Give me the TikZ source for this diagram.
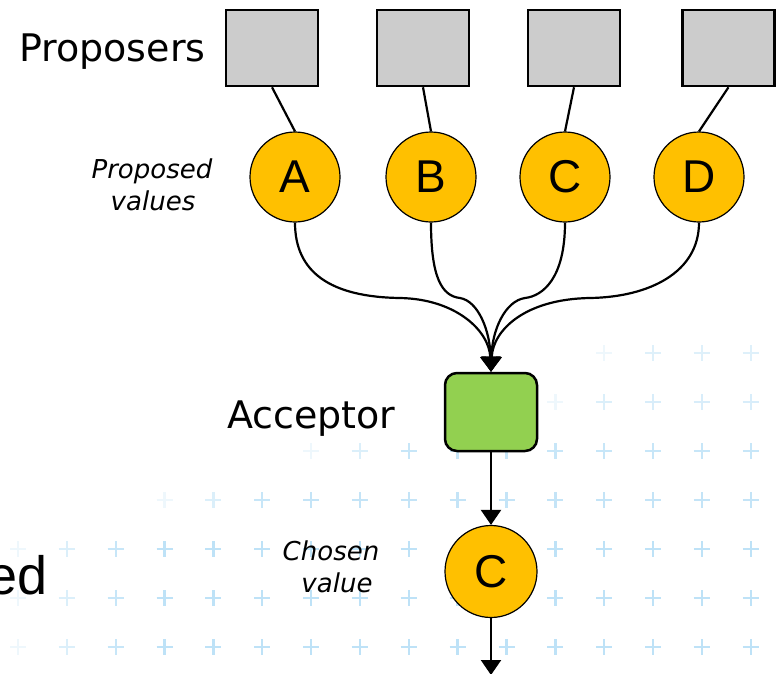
\documentclass[tikz,border=0pt]{standalone}
\usepackage{fontspec}
\setmainfont{DejaVu Sans}
\newfontfamily\arialf{Liberation Sans}
\usetikzlibrary{arrows.meta}
\definecolor{gridc}{HTML}{BEE2F7}
\definecolor{propgray}{HTML}{CCCCCC}
\definecolor{valorange}{HTML}{FFC000}
\definecolor{accgreen}{HTML}{92D050}
\tikzset{
  proposer/.style={draw=black, line width=2.5pt, fill=propgray, minimum width=92pt, minimum height=76pt, inner sep=0pt},
  valnode/.style={circle, draw=black, line width=1.2pt, fill=valorange, minimum size=90pt, inner sep=0pt, font=\arialf\fontsize{46}{50}\selectfont},
  acceptor/.style={draw=black, line width=2.5pt, fill=accgreen, rounded corners=12pt, minimum width=92pt, minimum height=78pt, inner sep=0pt},
  bigtext/.style={inner sep=0pt, font=\fontsize{38}{44}\selectfont},
  smalltext/.style={inner sep=0pt, font=\itshape\fontsize{26}{30}\selectfont},
  link/.style={draw=black, line width=2.2pt},
  arr/.style={link, -{Triangle[width=20pt,length=15pt]}},
  gridplus/.style={draw=gridc, line width=2.4pt}
}
\begin{document}
\begin{tikzpicture}[x=1pt, y=-1pt]
\useasboundingbox (0,0) rectangle (780,673);
\fill[white] (0,0) rectangle (780,673);
% background grid of plus signs
\foreach \r/\s/\m in {0/12/0.5, 1/11/0.6, 2/6/0.85, 3/3/0.9, 4/0/1, 5/0/1, 6/0/1}{
  \foreach \c in {\s,...,15}{
    \pgfmathsetmacro\o{min(\m,0.25+0.3*(\c-\s))}
    \pgfmathsetmacro\px{18+48.85*\c}
    \pgfmathsetmacro\py{353+49*\r}
    \draw[gridplus, opacity=\o] (\px-8,\py) -- (\px+8,\py) (\px,\py-8) -- (\px,\py+8);
  }
}
% labels
\node[bigtext, anchor=base west] (lprop) at (19,61) {Proposers};
\node[bigtext, anchor=base west] (lacc) at (227,428) {Acceptor};
\node[smalltext, anchor=base] (lpv1) at (152,178) {Proposed};
\node[smalltext, anchor=base] (lpv2) at (153,210) {values};
\node[smalltext, anchor=base] (lcv1) at (331,560) {Chosen};
\node[smalltext, anchor=base] (lcv2) at (337,592) {value};
\node[inner sep=0pt, anchor=base east, font=\arialf\fontsize{54}{60}\selectfont] (led) at (48,594) {ed};
% proposers
\node[proposer] (p1) at (272,48) {};
\node[proposer] (p2) at (423,48) {};
\node[proposer] (p3) at (574,48) {};
\node[proposer] (p4) at (728.5,48) {};
% proposed values
\node[valnode] (A) at (295,177) {A};
\node[valnode] (B) at (431,177) {B};
\node[valnode] (C) at (565,177) {C};
\node[valnode] (D) at (699,177) {D};
% acceptor and chosen value
\node[acceptor] (acc) at (491,412) {};
\node[valnode, minimum size=92pt] (ch) at (491,571.5) {C};
\coordinate (out) at (491,675);
% connectors
\draw[link] (p1.south) -- (A.north);
\draw[link] (p2.south) -- (B.north);
\draw[link] (p3.south) -- (C.north);
\draw[link] (p4.south) -- (D.north);
\draw[arr] (A.south) .. controls (295,272) and (330,297) .. (400,298) .. controls (455,299) and (489,330) .. (acc.north);
\draw[arr] (B.south) .. controls (431,278) and (442,296) .. (460,298) .. controls (478,301) and (490,330) .. (acc.north);
\draw[arr] (C.south) .. controls (565,278) and (543,296) .. (525,298) .. controls (505,301) and (492,330) .. (acc.north);
\draw[arr] (D.south) .. controls (699,272) and (650,297) .. (590,298) .. controls (525,299) and (493,330) .. (acc.north);
\draw[arr] (acc.south) -- (ch.north);
\draw[arr] (ch.south) -- (out);
\end{tikzpicture}
\end{document}
